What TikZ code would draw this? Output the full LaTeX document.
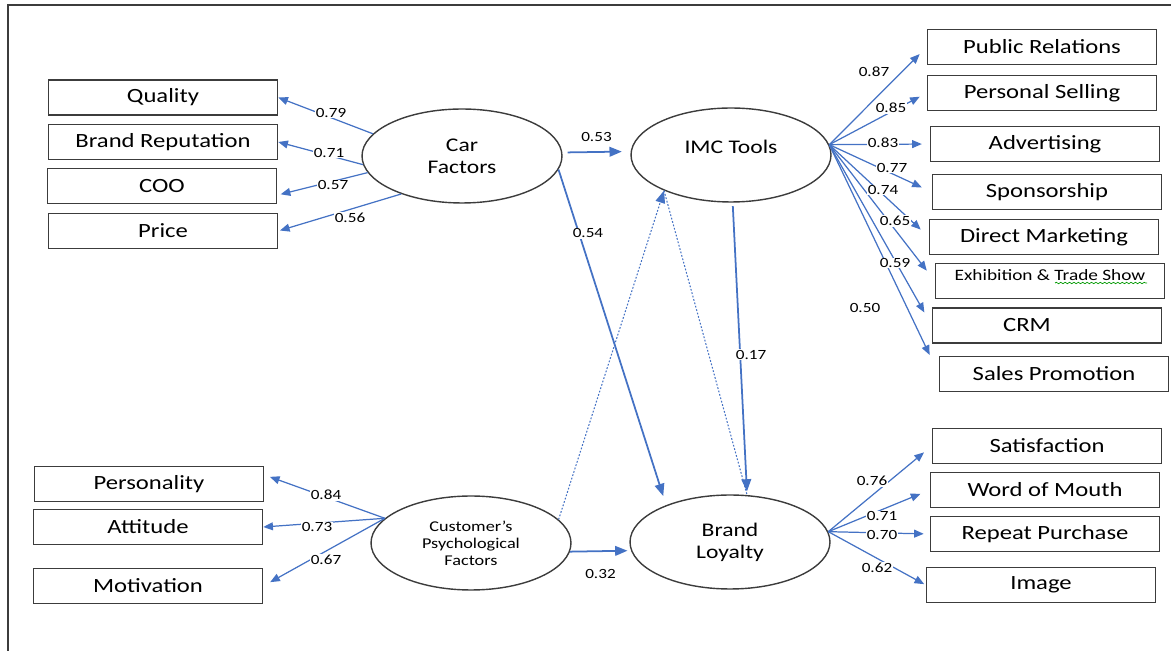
\documentclass[tikz,border=0pt]{standalone}
\usepackage{fontspec}
\setmainfont{Carlito}[FakeStretch=1.22]
\usepackage{xcolor}
\usetikzlibrary{arrows.meta,shapes.geometric,calc,decorations.pathmorphing}

\definecolor{semblue}{RGB}{68,114,196}
\definecolor{edgegray}{RGB}{60,60,60}

\begin{document}
\begin{tikzpicture}[x=0.02cm, y=-0.02cm,
    measure/.style={draw=edgegray, line width=0.9pt, minimum width=4.58cm, minimum height=0.7cm, inner sep=0pt, font=\fontsize{11.5}{13}\selectfont},
    construct/.style={ellipse, draw=edgegray, line width=0.8pt, minimum width=4cm, minimum height=1.88cm, inner sep=0pt, align=center, font=\fontsize{11}{12.5}\selectfont},
    loading/.style={semblue, line width=0.7pt, -{Triangle[length=5.5pt,width=4.5pt]}},
    effect/.style={semblue, line width=1pt, -{Triangle[length=7pt,width=5.5pt]}},
    coef/.style={fill=white, text=black, inner sep=0.5pt, font=\fontsize{8}{9}\selectfont}]
    \useasboundingbox (0,0) rectangle (1171,651);

    % Frame
    \draw[edgegray, line width=1.1pt] (8,651) -- (8,5) -- (1171,5);

    % Latent constructs
    \node[construct] (car) at (462,156) {Car\\Factors};
    \node[construct, text depth=9pt] (imc) at (731,155) {IMC Tools};
    \node[construct, font=\fontsize{8.5}{9.6}\selectfont] (cpf) at (471,543) {Customer’s\\Psychological\\Factors};
    \node[construct] (bl) at (730,542) {Brand\\Loyalty};

    % Car factor indicators
    \node[measure] (quality) at (163,97.5) {Quality};
    \node[measure] (brandrep) at (163,142) {Brand Reputation};
    \node[measure] (coo) at (162,186) {COO};
    \node[measure] (price) at (163,231) {Price};

    % IMC tool indicators
    \node[measure] (pr) at (1042,47) {Public Relations};
    \node[measure] (ps) at (1042,93) {Personal Selling};
    \node[measure] (adv) at (1045,144) {Advertising};
    \node[measure] (spons) at (1047,192) {Sponsorship};
    \node[measure] (dm) at (1044,237) {Direct Marketing};
    \node[measure, font=\fontsize{9}{10}\selectfont, text depth=7pt] (exh) at (1050,281) {Exhibition \& Trade Show};
    \node[measure] (crm) at (1047,325.5) {CRM\hspace*{0.8cm}};
    \node[measure] (sp) at (1054,374) {Sales Promotion};

    % Brand loyalty indicators
    \node[measure] (sat) at (1047,446) {Satisfaction};
    \node[measure] (wom) at (1045,490) {Word of Mouth};
    \node[measure] (rp) at (1045,534) {Repeat Purchase};
    \node[measure] (img) at (1041,585) {Image};

    % Psychological indicators
    \node[measure] (pers) at (149,484) {Personality};
    \node[measure] (att) at (148,527) {Attitude};
    \node[measure] (mot) at (148,586) {Motivation};

    % Fan origins
    \coordinate (imcfan) at (imc.6);
    \coordinate (blfan) at (bl.6);
    \coordinate (cpffan) at (cpf.164);

    % Loadings
    \draw[loading] (car.166) -- (quality.east);
    \draw[loading] (car.185) -- (brandrep.east);
    \draw[loading, shorten >=2pt] (car.190) -- ($(coo.east)!0.5!(coo.south east)$);
    \draw[loading, shorten >=1pt] (car.212) -- (price.east);

    \foreach \ind/\gap in {pr/5.7pt, ps/4.5pt, adv/4.5pt, spons/6.2pt, dm/6.2pt, exh/7.4pt, crm/8.5pt, sp/12pt}
        \draw[loading, shorten >=\gap] (imcfan) -- (\ind.west);

    \foreach \ind/\gap in {sat/5.7pt, wom/5.7pt, rp/3.4pt, img/1pt}
        \draw[loading, shorten >=\gap] (blfan) -- (\ind.west);

    \draw[loading, shorten >=3.4pt] (cpffan) -- ($(pers.east)!0.5!(pers.north east)$);
    \draw[loading] (cpffan) -- (att.east);
    \draw[loading, shorten >=4.5pt] (cpffan) -- (mot.east);

    % Structural paths
    \draw[effect, shorten <=3pt, shorten >=5pt] (car.2) -- (imc.178) node[midway, above=5pt, coef] (c53) {0.53};
    \draw[effect, shorten >=5.4pt] (car.-8) -- (bl.150) node[pos=0.19, xshift=0.18cm, coef] (c54) {0.54};
    \draw[effect, shorten <=2pt, shorten >=2pt] (imc.-88) -- (bl.70) node[pos=0.52, xshift=0.22cm, coef] (c17) {0.17};
    \draw[effect, shorten >=2pt] (cpf.-5) -- (bl.185) node[midway, below=9.5pt, coef] (c32) {0.32};
    \draw[semblue, line width=0.6pt, dash pattern=on 1pt off 1pt, -{Triangle[length=7pt,width=5.5pt]}] (cpf.15) -- (imc.208);
    \draw[semblue, line width=0.6pt, dash pattern=on 1pt off 1pt] (imc.208) -- (bl.70);

    % Spelling mark
    \draw[green!60!black, line width=0.4pt, decorate, decoration={snake, amplitude=0.4pt, segment length=2.5pt}] ($(exh.center)+(5,2)$) -- ($(exh.center)+(97,2)$);

    % Loading values
    \node[coef] (c79) at (331,113) {0.79};
    \node[coef] (c71) at (329,153) {0.71};
    \node[coef] (c57) at (333,185) {0.57};
    \node[coef] (c56) at (350,218) {0.56};

    \node[coef] (c87) at (874,72) {0.87};
    \node[coef] (c85) at (891,108) {0.85};
    \node[coef] (c83) at (883,143) {0.83};
    \node[coef] (c77) at (892,168) {0.77};
    \node[coef] (c74) at (883,190) {0.74};
    \node[coef] (c65) at (895,221) {0.65};
    \node[coef] (c59) at (895,263) {0.59};
    \node[coef] (c50) at (865,308) {0.50};

    \node[coef] (c76) at (872,481) {0.76};
    \node[coef] (c71b) at (882,516) {0.71};
    \node[coef] (c70) at (882,535) {0.70};
    \node[coef] (c62) at (877,568) {0.62};

    \node[coef] (c84) at (326,495) {0.84};
    \node[coef] (c73) at (317,527) {0.73};
    \node[coef] (c67) at (326,560) {0.67};
\end{tikzpicture}
\end{document}
